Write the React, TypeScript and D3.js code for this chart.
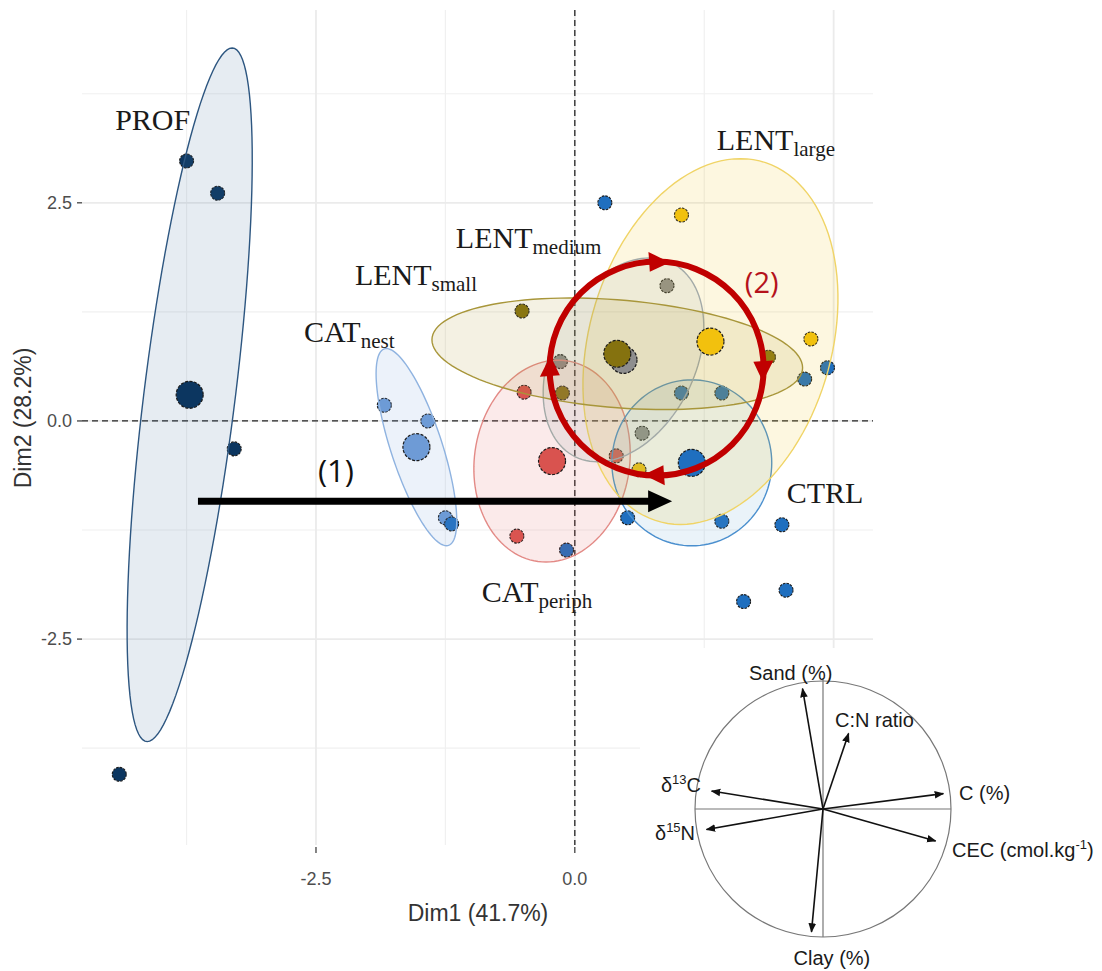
import React from 'react';
import * as d3 from 'd3';

const W = 1102;
const H = 971;

// ---- groups ----
const groups = ['CAT_nest', 'CAT_periph', 'CTRL', 'LENT_large', 'LENT_medium', 'LENT_small', 'PROF'];
const groupMain = ['CAT', 'CAT', 'CTRL', 'LENT', 'LENT', 'LENT', 'PROF'];
const groupSub = ['nest', 'periph', '', 'large', 'medium', 'small', ''];
const pointColors = ['#6e9bd6', '#d9534f', '#1f6fbf', '#f2c10e', '#8e8e8e', '#85720f', '#0c3660'];
const ellipseStrokes = ['#8fb3e0', '#e38a86', '#4a8fce', '#f0d466', '#a3aaa8', '#a8963a', '#2d5680'];
const ellipseFills = ['#6e9bd6', '#e0605a', '#5a9fd0', '#f2c10e', '#8e9a98', '#a89028', '#3c6a9e'];

// ---- individuals (Dim1, Dim2) ----
const indGroup = [
  6, 6, 6, 6,
  0, 0, 0,
  1, 1, 1,
  5, 5, 5,
  4, 4, 4,
  3, 3, 3,
  2, 2, 2, 2, 2, 2, 2, 2, 2, 2, 2, 2,
];
const indDim1 = [
  -3.75, -3.45, -3.29, -4.40,
  -1.84, -1.42, -1.25,
  -0.49, -0.56, 0.40,
  -0.51, -0.12, 1.87,
  0.89, -0.14, 0.65,
  1.03, 2.28, 0.62,
  0.29, 1.03, 1.42, 2.22, 2.44, 0.51, 1.42, 2.00, 2.04, 1.63, -0.08, -1.19,
];
const indDim2 = [
  2.98, 2.61, -0.32, -4.05,
  0.18, 0.00, -1.11,
  0.33, -1.32, -0.40,
  1.26, 0.32, 0.73,
  1.55, 0.68, -0.14,
  2.36, 0.94, -0.56,
  2.50, 0.32, 0.32, 0.48, 0.61, -1.11, -1.15, -1.19, -1.94, -2.07, -1.48, -1.18,
];

// ---- group means ----
const meanDim1 = [-1.53, -0.22, 1.13, 1.31, 0.47, 0.41, -3.72];
const meanDim2 = [-0.30, -0.46, -0.48, 0.91, 0.70, 0.77, 0.30];

// ---- ellipse conjugate semi-diameters (data units) ----
const ellU1 = [-0.29, 0.058, 0.0, 0.29, 0.251, 1.79, 0.41];
const ellU2 = [1.13, 1.157, 0.951, 2.096, 1.168, -0.16, 3.975];
const ellV1 = [0.26, 0.753, 0.772, 1.197, 0.734, 0.0, 0.444];
const ellV2 = [0.0, 0.0, 0.0, 0.0, 0.0, 0.619, 0.0];

// ---- group label anchors (data units) ----
const labelDim1 = [-2.616, -0.898, 2.046, 1.371, -1.149, -2.124, -4.44];
const labelDim2 = [0.905, -2.074, -0.94, 3.106, 1.983, 1.559, 3.335];

// ---- axes ----
const xDomain = [-4.76, 2.88];
const yDomain = [-4.86, 4.71];
const xMajor = [-2.5, 0, 2.5];
const xMinor = [-3.75, -1.25, 1.25];
const yMajor = [-2.5, 0, 2.5];
const yMinor = [-3.75, -1.25, 1.25, 3.75];
const xTitle = 'Dim1 (41.7%)';
const yTitle = 'Dim2 (28.2%)';

// ---- annotations (data units) ----
const arrow1From = [-3.64, -0.92];
const arrow1To = [0.94, -0.92];
const arrow1Label = [-2.307, -0.699];
const cycleCenter = [0.79, 0.6];
const cycleLabel = [1.805, 1.467];
const cycleArrowAngles = [-90, 0, 90, 180];

// ---- variables correlation circle ----
const varNames = ['Sand (%)', 'C:N ratio', 'C (%)', 'CEC', 'Clay (%)', 'd15N', 'd13C'];
const varDim1 = [-0.16, 0.2, 0.94, 0.88, -0.09, -0.91, -0.87];
const varDim2 = [0.94, 0.59, 0.12, -0.25, -0.96, -0.16, 0.14];
const varLabelDim1 = [-0.578, 0.094, 1.0625, 1.008, 0.07, -1.3125, -1.266];
const varLabelDim2 = [1.008, 0.64, 0.07, -0.375, -1.219, -0.242, 0.133];

const SANS = '"Liberation Sans", Arial, sans-serif';
const SERIF = '"Liberation Serif", "Times New Roman", serif';

const fmt = (v: number) => d3.format('.1f')(v).replace('\u2212', '-');

export default function App() {
  const x = d3.scaleLinear().domain(xDomain).range([82, 873]);
  const y = d3.scaleLinear().domain(yDomain).range([845, 10]);

  const ellipsePath = (g: number) => {
    const ts = d3.range(0, 120).map((i) => (i / 120) * Math.PI * 2);
    const line = d3
      .line<number>()
      .x((t) => x(meanDim1[g] + ellU1[g] * Math.cos(t) + ellV1[g] * Math.sin(t)))
      .y((t) => y(meanDim2[g] + ellU2[g] * Math.cos(t) + ellV2[g] * Math.sin(t)))
      .curve(d3.curveLinearClosed);
    return line(ts) || '';
  };

  // correlation circle scales
  const cx = d3.scaleLinear().domain([-1, 1]).range([695, 951]);
  const cy = d3.scaleLinear().domain([-1, 1]).range([937, 681]);

  // cycle
  const ccx = x(cycleCenter[0]);
  const ccy = y(cycleCenter[1]);
  const R = 107;
  const cycleHeads = cycleArrowAngles.map((a) => {
    const tip = ((a + 7) * Math.PI) / 180;
    const base = ((a - 4) * Math.PI) / 180;
    const bx = ccx + R * Math.cos(base);
    const by = ccy + R * Math.sin(base);
    const ux = Math.cos(base);
    const uy = Math.sin(base);
    const tx = ccx + R * Math.cos(tip);
    const ty = ccy + R * Math.sin(tip);
    const hw = 10;
    return `M${tx},${ty}L${bx + ux * hw},${by + uy * hw}L${bx - ux * hw},${by - uy * hw}Z`;
  });

  const a1x0 = x(arrow1From[0]);
  const a1x1 = x(arrow1To[0]);
  const a1y = y(arrow1From[1]);

  const pointStroke = '#1b1b1b';

  return (
    <div style={{ position: 'absolute', left: 0, top: 0 }}>
      <svg width={W} height={H} viewBox={`0 0 ${W} ${H}`} style={{ display: 'block', background: '#fff' }}>
        <defs>
          <marker id="varArrow" viewBox="0 0 10 10" refX="9" refY="5" markerWidth="6" markerHeight="6" orient="auto">
            <path d="M0,1 L10,5 L0,9 Z" fill="#111" />
          </marker>
        </defs>
        {/* grid */}
        <g>
          {xMinor.map((v) => (
            <line key={'xm' + v} x1={x(v)} x2={x(v)} y1={10} y2={845} stroke="#f0f0f0" strokeWidth={1.2} />
          ))}
          {yMinor.map((v) => (
            <line key={'ym' + v} x1={82} x2={873} y1={y(v)} y2={y(v)} stroke="#f0f0f0" strokeWidth={1.2} />
          ))}
          {xMajor.map((v) => (
            <line key={'xM' + v} x1={x(v)} x2={x(v)} y1={10} y2={845} stroke="#ebebeb" strokeWidth={1.8} />
          ))}
          {yMajor.map((v) => (
            <line key={'yM' + v} x1={82} x2={873} y1={y(v)} y2={y(v)} stroke="#ebebeb" strokeWidth={1.8} />
          ))}
        </g>
        {/* zero lines */}
        <line x1={x(0)} x2={x(0)} y1={10} y2={845} stroke="#222" strokeWidth={1.3} strokeDasharray="6 4" />
        <line x1={82} x2={873} y1={y(0)} y2={y(0)} stroke="#222" strokeWidth={1.3} strokeDasharray="6 4" />

        {/* individuals */}
        <g>
          {indDim1.map((d, i) => (
            <circle
              key={'p' + i}
              cx={x(d)}
              cy={y(indDim2[i])}
              r={7}
              fill={pointColors[indGroup[i]]}
              stroke={pointStroke}
              strokeWidth={1.1}
              strokeDasharray="2.5 1.2"
            />
          ))}
        </g>

        {/* ellipses */}
        <g>
          {groups.map((g, gi) => (
            <path
              key={'e' + g}
              d={ellipsePath(gi)}
              fill={ellipseFills[gi]}
              fillOpacity={0.13}
              stroke={ellipseStrokes[gi]}
              strokeWidth={1.4}
            />
          ))}
        </g>

        {/* group means */}
        <g>
          {groups.map((g, gi) => (
            <circle
              key={'m' + g}
              cx={x(meanDim1[gi])}
              cy={y(meanDim2[gi])}
              r={13.5}
              fill={pointColors[gi]}
              stroke={pointStroke}
              strokeWidth={1.2}
              strokeDasharray="3 1.5"
            />
          ))}
        </g>

        {/* axes */}
        <g fontFamily={SANS} fill="#4d4d4d" fontSize={18}>
          {yMajor.map((v) => (
            <g key={'yt' + v}>
              <line x1={77} x2={82} y1={y(v)} y2={y(v)} stroke="#333" strokeWidth={1.2} />
              <text x={72} y={y(v)} dy="0.35em" textAnchor="end">
                {fmt(v)}
              </text>
            </g>
          ))}
          {xMajor.map((v) => (
            <g key={'xt' + v}>
              <line x1={x(v)} x2={x(v)} y1={847} y2={853} stroke="#333" strokeWidth={1.2} />
              <text x={x(v)} y={885} textAnchor="middle">
                {fmt(v)}
              </text>
            </g>
          ))}
        </g>
        <text x={478} y={921} textAnchor="middle" fontFamily={SANS} fontSize={23} fill="#333">
          {xTitle}
        </text>
        <text
          transform={`translate(31,${y(0) - 3}) rotate(-90)`}
          textAnchor="middle"
          fontFamily={SANS}
          fontSize={23}
          fill="#333"
        >
          {yTitle}
        </text>

        {/* group labels */}
        <g fontFamily={SERIF} fill="#1a1a1a">
          {groups.map((g, gi) => (
            <text key={'l' + g} x={x(labelDim1[gi])} y={y(labelDim2[gi])} fontSize={30}>
              {groupMain[gi]}
              {groupSub[gi] ? (
                <tspan fontSize={21} dy={6}>
                  {groupSub[gi]}
                </tspan>
              ) : null}
            </text>
          ))}
        </g>

        {/* arrow (1) */}
        <line x1={a1x0} x2={a1x1 - 20} y1={a1y} y2={a1y} stroke="#000" strokeWidth={7} />
        <path d={`M${a1x1},${a1y}L${a1x1 - 24},${a1y - 11}L${a1x1 - 24},${a1y + 11}Z`} fill="#000" />
        <text
          x={x(arrow1Label[0])}
          y={y(arrow1Label[1])}
          textAnchor="middle"
          fontFamily='"Open Sans", "Noto Sans", sans-serif'
          fontSize={31}
          fill="#111"
        >
          (1)
        </text>

        {/* cycle (2) */}
        <circle cx={ccx} cy={ccy} r={R} fill="none" stroke="#c00000" strokeWidth={6} />
        {cycleHeads.map((d, i) => (
          <path key={'ch' + i} d={d} fill="#c00000" />
        ))}
        <text
          x={x(cycleLabel[0])}
          y={y(cycleLabel[1])}
          textAnchor="middle"
          fontFamily='"Open Sans", "Noto Sans", sans-serif'
          fontSize={29}
          fill="#b5121b"
        >
          (2)
        </text>

        {/* inset: variables correlation circle */}
        <rect x={640} y={648} width={W - 640} height={H - 648} fill="#fff" />
        <circle cx={cx(0)} cy={cy(0)} r={cx(1) - cx(0)} fill="none" stroke="#777" strokeWidth={1.2} />
        <line x1={cx(-1)} x2={cx(1)} y1={cy(0)} y2={cy(0)} stroke="#777" strokeWidth={1.2} />
        <line x1={cx(0)} x2={cx(0)} y1={cy(1) - 3} y2={cy(-1)} stroke="#777" strokeWidth={1.2} />
        {varDim1.map((v, i) => (
          <line
            key={'va' + i}
            x1={cx(0)}
            y1={cy(0)}
            x2={cx(v)}
            y2={cy(varDim2[i])}
            stroke="#111"
            strokeWidth={1.6}
            markerEnd="url(#varArrow)"
          />
        ))}
        <g fontFamily={SANS} fontSize={20} fill="#1a1a1a">
          {varNames.map((n, i) => {
            const lx = cx(varLabelDim1[i]);
            const ly = cy(varLabelDim2[i]);
            if (n === 'CEC') {
              return (
                <text key={'vl' + i} x={lx} y={ly}>
                  CEC (cmol.kg
                  <tspan fontSize={13} dy={-8}>
                    -1
                  </tspan>
                  <tspan dy={8}>)</tspan>
                </text>
              );
            }
            if (n === 'd15N' || n === 'd13C') {
              return (
                <text key={'vl' + i} x={lx} y={ly}>
                  δ
                  <tspan fontSize={13} dy={-8}>
                    {n.slice(1, 3)}
                  </tspan>
                  <tspan dy={8}>{n.slice(3)}</tspan>
                </text>
              );
            }
            return (
              <text key={'vl' + i} x={lx} y={ly} textAnchor={n === 'Clay (%)' ? 'middle' : 'start'}>
                {n}
              </text>
            );
          })}
        </g>
      </svg>
    </div>
  );
}
